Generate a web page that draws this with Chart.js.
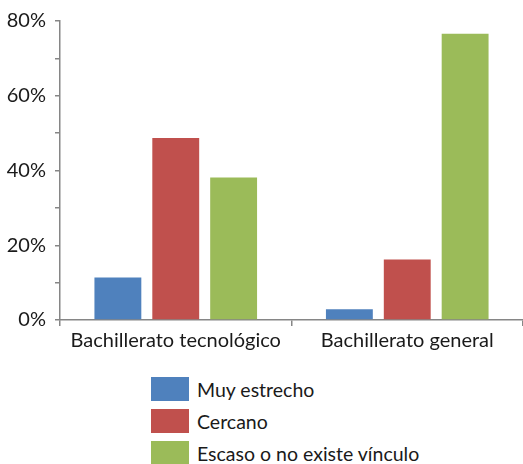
<!DOCTYPE html>
<html>
<head>
<meta charset="utf-8">
<script src="https://cdn.jsdelivr.net/npm/chart.js@4/dist/chart.umd.min.js"></script>
<style>
  html, body { margin: 0; padding: 0; background: #fff; }
  #wrap { position: relative; width: 523px; height: 464px; font-family: Lato, "Open Sans", sans-serif; }
  #box { position: absolute; left: 0; top: 0; width: 523px; height: 360px; }
  #legend { position: absolute; left: 151px; top: 377px; }
  .item { display: flex; align-items: center; height: 24px; margin-bottom: 8px; font-size: 19.5px; color: #1a1a1a; }
  .sw { width: 38px; height: 24px; margin-right: 8px; }
</style>
</head>
<body>
<div id="wrap">
  <div id="box"><canvas id="chart"></canvas></div>
  <div id="legend"></div>
</div>
<script>
const categories = ['Bachillerato tecnológico', 'Bachillerato general'];
const seriesNames = ['Muy estrecho', 'Cercano', 'Escaso o no existe vínculo'];
const muyEstrecho = [11.4, 2.9];
const cercano = [48.7, 16.2];
const escaso = [38.1, 76.6];
const colors = ['#4f81bd', '#c0504d', '#9bbb59'];

const axisColor = '#868686';

const myChart = new Chart('chart', {
  type: 'bar',
  data: {
    labels: categories,
    datasets: [muyEstrecho, cercano, escaso].map((d, i) => ({
      label: seriesNames[i],
      data: d,
      backgroundColor: colors[i],
      barPercentage: 0.81,
      categoryPercentage: 0.75
    }))
  },
  options: {
    responsive: true,
    maintainAspectRatio: false,
    animation: false,
    layout: { padding: { top: 4, right: 0 } },
    plugins: {
      legend: { display: false },
      tooltip: { enabled: false }
    },
    scales: {
      x: {
        border: { color: axisColor, width: 1.5 },
        grid: { drawOnChartArea: false, color: axisColor, tickLength: 6, lineWidth: 1.5 },
        ticks: { color: '#1a1a1a', font: { family: 'Lato', size: 20 }, padding: 3 },
        afterFit: s => { s.height = 40; }
      },
      y: {
        min: 0,
        max: 80,
        border: { color: axisColor, width: 1.5 },
        grid: { drawOnChartArea: false, color: axisColor, tickLength: 5, lineWidth: 1.5 },
        ticks: {
          stepSize: 10,
          autoSkip: false,
          color: '#1a1a1a',
          font: { family: 'Lato', size: 20 },
          padding: 9,
          callback: v => v % 20 === 0 ? v + '%' : ''
        },
        afterFit: s => { s.width = 60; }
      }
    }
  }
});

// vertical legend under the chart
const legend = document.getElementById('legend');
myChart.data.datasets.forEach(ds => {
  const row = document.createElement('div');
  row.className = 'item';
  row.innerHTML = '<span class="sw" style="background:' + ds.backgroundColor + '"></span>' + ds.label;
  legend.appendChild(row);
});
</script>
</body>
</html>
